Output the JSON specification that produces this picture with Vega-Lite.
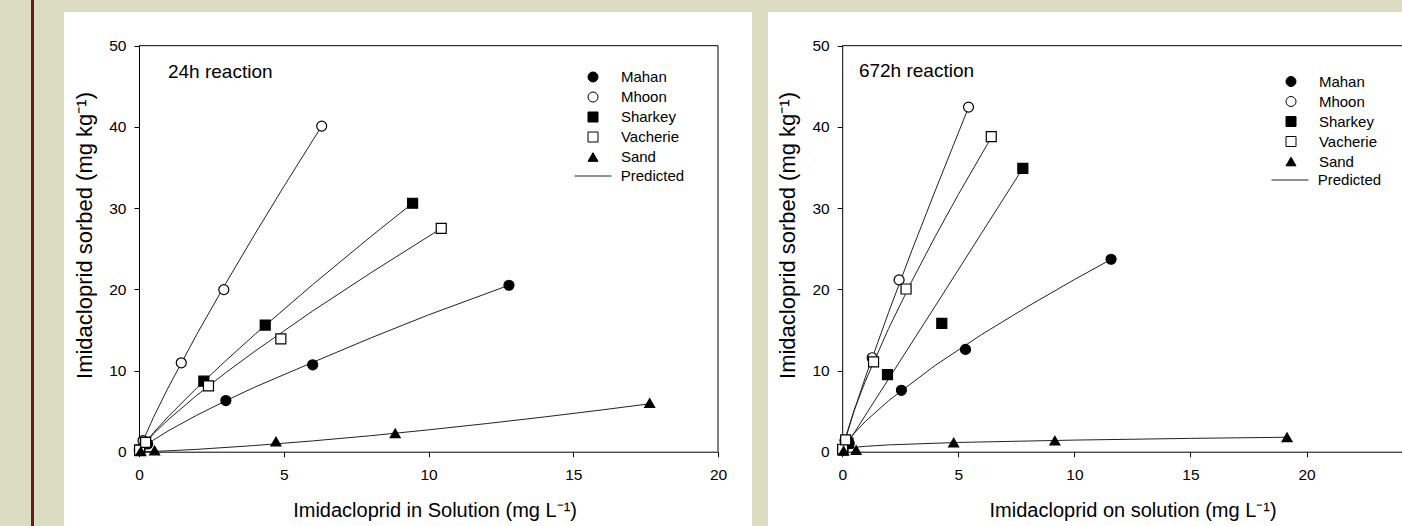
{
  "$schema": "https://vega.github.io/schema/vega-lite/v6.json",
  "background": "#DCDCC0",
  "padding": {"left": 31, "top": 0, "right": 0, "bottom": 0},
  "config": {
    "view": {"stroke": null},
    "font": "Liberation Sans",
    "axis": {"domainColor": "black", "tickColor": "black", "labelColor": "black", "titleColor": "black", "labelFont": "Liberation Sans", "titleFont": "Liberation Sans", "labelFontSize": 15.5, "titleFontSize": 20, "titleFontWeight": "normal", "tickSize": 5, "grid": false, "labelFlush": false, "labelOverlap": false, "domainWidth": 1, "tickWidth": 1},
    "axisX": {"labelPadding": 11},
    "axisY": {"labelPadding": 8, "titleFontSize": 22},
    "legend": {"labelFont": "Liberation Sans", "labelFontSize": 15, "labelColor": "black", "padding": 0, "rowPadding": 4, "symbolStrokeWidth": 1}
  },
  "datasets": {
    "obs": [
      {"p": "24h", "soil": "Mahan", "x": 0.03, "y": 0.15},
      {"p": "24h", "soil": "Mahan", "x": 0.3, "y": 0.95},
      {"p": "24h", "soil": "Mahan", "x": 3.0, "y": 6.3},
      {"p": "24h", "soil": "Mahan", "x": 6.0, "y": 10.7},
      {"p": "24h", "soil": "Mahan", "x": 12.78, "y": 20.5},
      {"p": "24h", "soil": "Mhoon", "x": 0.01, "y": 0.25},
      {"p": "24h", "soil": "Mhoon", "x": 0.14, "y": 1.37},
      {"p": "24h", "soil": "Mhoon", "x": 1.46, "y": 10.95},
      {"p": "24h", "soil": "Mhoon", "x": 2.93, "y": 19.96},
      {"p": "24h", "soil": "Mhoon", "x": 6.31, "y": 40.1},
      {"p": "24h", "soil": "Sharkey", "x": 0.02, "y": 0.2},
      {"p": "24h", "soil": "Sharkey", "x": 0.22, "y": 1.14},
      {"p": "24h", "soil": "Sharkey", "x": 2.24, "y": 8.68},
      {"p": "24h", "soil": "Sharkey", "x": 4.36, "y": 15.6},
      {"p": "24h", "soil": "Sharkey", "x": 9.45, "y": 30.6},
      {"p": "24h", "soil": "Vacherie", "x": 0.02, "y": 0.2},
      {"p": "24h", "soil": "Vacherie", "x": 0.23, "y": 1.15},
      {"p": "24h", "soil": "Vacherie", "x": 2.4, "y": 8.1},
      {"p": "24h", "soil": "Vacherie", "x": 4.9, "y": 13.9},
      {"p": "24h", "soil": "Vacherie", "x": 10.44, "y": 27.5},
      {"p": "24h", "soil": "Sand", "x": 0.06, "y": 0.05},
      {"p": "24h", "soil": "Sand", "x": 0.54, "y": 0.15},
      {"p": "24h", "soil": "Sand", "x": 4.73, "y": 1.24},
      {"p": "24h", "soil": "Sand", "x": 8.85, "y": 2.27},
      {"p": "24h", "soil": "Sand", "x": 17.64, "y": 6.0},
      {"p": "672h", "soil": "Mahan", "x": 0.03, "y": 0.2},
      {"p": "672h", "soil": "Mahan", "x": 0.3, "y": 1.0},
      {"p": "672h", "soil": "Mahan", "x": 2.55, "y": 7.56},
      {"p": "672h", "soil": "Mahan", "x": 5.31, "y": 12.6},
      {"p": "672h", "soil": "Mahan", "x": 11.58, "y": 23.7},
      {"p": "672h", "soil": "Mhoon", "x": 0.01, "y": 0.3},
      {"p": "672h", "soil": "Mhoon", "x": 0.12, "y": 1.35},
      {"p": "672h", "soil": "Mhoon", "x": 1.29, "y": 11.57},
      {"p": "672h", "soil": "Mhoon", "x": 2.45, "y": 21.16},
      {"p": "672h", "soil": "Mhoon", "x": 5.44, "y": 42.44},
      {"p": "672h", "soil": "Sharkey", "x": 0.02, "y": 0.25},
      {"p": "672h", "soil": "Sharkey", "x": 0.25, "y": 1.05},
      {"p": "672h", "soil": "Sharkey", "x": 1.95, "y": 9.5},
      {"p": "672h", "soil": "Sharkey", "x": 4.29, "y": 15.8},
      {"p": "672h", "soil": "Sharkey", "x": 7.78, "y": 34.9},
      {"p": "672h", "soil": "Vacherie", "x": 0.02, "y": 0.3},
      {"p": "672h", "soil": "Vacherie", "x": 0.15, "y": 1.45},
      {"p": "672h", "soil": "Vacherie", "x": 1.35, "y": 11.07},
      {"p": "672h", "soil": "Vacherie", "x": 2.75, "y": 20.04},
      {"p": "672h", "soil": "Vacherie", "x": 6.42, "y": 38.8},
      {"p": "672h", "soil": "Sand", "x": 0.06, "y": 0.1},
      {"p": "672h", "soil": "Sand", "x": 0.6, "y": 0.2},
      {"p": "672h", "soil": "Sand", "x": 4.8, "y": 1.12},
      {"p": "672h", "soil": "Sand", "x": 9.16, "y": 1.36},
      {"p": "672h", "soil": "Sand", "x": 19.16, "y": 1.78}
    ],
    "pred": [
      {"p": "24h", "model": "Predicted", "soil": "Mahan", "x": 0, "y": 0},
      {"p": "24h", "model": "Predicted", "soil": "Mahan", "x": 0.02, "y": 0.1},
      {"p": "24h", "model": "Predicted", "soil": "Mahan", "x": 0.1, "y": 0.39},
      {"p": "24h", "model": "Predicted", "soil": "Mahan", "x": 0.5, "y": 1.44},
      {"p": "24h", "model": "Predicted", "soil": "Mahan", "x": 1, "y": 2.55},
      {"p": "24h", "model": "Predicted", "soil": "Mahan", "x": 2, "y": 4.5},
      {"p": "24h", "model": "Predicted", "soil": "Mahan", "x": 3, "y": 6.28},
      {"p": "24h", "model": "Predicted", "soil": "Mahan", "x": 4, "y": 7.95},
      {"p": "24h", "model": "Predicted", "soil": "Mahan", "x": 6, "y": 11.0},
      {"p": "24h", "model": "Predicted", "soil": "Mahan", "x": 8, "y": 14.0},
      {"p": "24h", "model": "Predicted", "soil": "Mahan", "x": 10, "y": 16.85},
      {"p": "24h", "model": "Predicted", "soil": "Mahan", "x": 12.78, "y": 20.5},
      {"p": "24h", "model": "Predicted", "soil": "Mhoon", "x": 0, "y": 0},
      {"p": "24h", "model": "Predicted", "soil": "Mhoon", "x": 0.02, "y": 0.24},
      {"p": "24h", "model": "Predicted", "soil": "Mhoon", "x": 0.1, "y": 1.02},
      {"p": "24h", "model": "Predicted", "soil": "Mhoon", "x": 0.5, "y": 4.23},
      {"p": "24h", "model": "Predicted", "soil": "Mhoon", "x": 1, "y": 7.83},
      {"p": "24h", "model": "Predicted", "soil": "Mhoon", "x": 2, "y": 14.48},
      {"p": "24h", "model": "Predicted", "soil": "Mhoon", "x": 3, "y": 20.75},
      {"p": "24h", "model": "Predicted", "soil": "Mhoon", "x": 4, "y": 26.78},
      {"p": "24h", "model": "Predicted", "soil": "Mhoon", "x": 5, "y": 32.64},
      {"p": "24h", "model": "Predicted", "soil": "Mhoon", "x": 6.31, "y": 40.1},
      {"p": "24h", "model": "Predicted", "soil": "Sharkey", "x": 0, "y": 0},
      {"p": "24h", "model": "Predicted", "soil": "Sharkey", "x": 0.02, "y": 0.14},
      {"p": "24h", "model": "Predicted", "soil": "Sharkey", "x": 0.1, "y": 0.57},
      {"p": "24h", "model": "Predicted", "soil": "Sharkey", "x": 0.5, "y": 2.34},
      {"p": "24h", "model": "Predicted", "soil": "Sharkey", "x": 1, "y": 4.29},
      {"p": "24h", "model": "Predicted", "soil": "Sharkey", "x": 2, "y": 7.87},
      {"p": "24h", "model": "Predicted", "soil": "Sharkey", "x": 3, "y": 11.22},
      {"p": "24h", "model": "Predicted", "soil": "Sharkey", "x": 4, "y": 14.43},
      {"p": "24h", "model": "Predicted", "soil": "Sharkey", "x": 6, "y": 20.58},
      {"p": "24h", "model": "Predicted", "soil": "Sharkey", "x": 8, "y": 26.47},
      {"p": "24h", "model": "Predicted", "soil": "Sharkey", "x": 9.45, "y": 30.6},
      {"p": "24h", "model": "Predicted", "soil": "Vacherie", "x": 0, "y": 0},
      {"p": "24h", "model": "Predicted", "soil": "Vacherie", "x": 0.02, "y": 0.15},
      {"p": "24h", "model": "Predicted", "soil": "Vacherie", "x": 0.1, "y": 0.58},
      {"p": "24h", "model": "Predicted", "soil": "Vacherie", "x": 0.5, "y": 2.2},
      {"p": "24h", "model": "Predicted", "soil": "Vacherie", "x": 1, "y": 3.91},
      {"p": "24h", "model": "Predicted", "soil": "Vacherie", "x": 2, "y": 6.96},
      {"p": "24h", "model": "Predicted", "soil": "Vacherie", "x": 3, "y": 9.74},
      {"p": "24h", "model": "Predicted", "soil": "Vacherie", "x": 4, "y": 12.37},
      {"p": "24h", "model": "Predicted", "soil": "Vacherie", "x": 6, "y": 17.33},
      {"p": "24h", "model": "Predicted", "soil": "Vacherie", "x": 8, "y": 22.01},
      {"p": "24h", "model": "Predicted", "soil": "Vacherie", "x": 10.44, "y": 27.5},
      {"p": "24h", "model": "Predicted", "soil": "Sand", "x": 0, "y": 0},
      {"p": "24h", "model": "Predicted", "soil": "Sand", "x": 0.5, "y": 0.04},
      {"p": "24h", "model": "Predicted", "soil": "Sand", "x": 1, "y": 0.11},
      {"p": "24h", "model": "Predicted", "soil": "Sand", "x": 2, "y": 0.29},
      {"p": "24h", "model": "Predicted", "soil": "Sand", "x": 4, "y": 0.76},
      {"p": "24h", "model": "Predicted", "soil": "Sand", "x": 6, "y": 1.33},
      {"p": "24h", "model": "Predicted", "soil": "Sand", "x": 8, "y": 1.97},
      {"p": "24h", "model": "Predicted", "soil": "Sand", "x": 10, "y": 2.69},
      {"p": "24h", "model": "Predicted", "soil": "Sand", "x": 12, "y": 3.46},
      {"p": "24h", "model": "Predicted", "soil": "Sand", "x": 14, "y": 4.28},
      {"p": "24h", "model": "Predicted", "soil": "Sand", "x": 16, "y": 5.15},
      {"p": "24h", "model": "Predicted", "soil": "Sand", "x": 17.64, "y": 5.9},
      {"p": "672h", "model": "Predicted", "soil": "Mahan", "x": 0, "y": 0},
      {"p": "672h", "model": "Predicted", "soil": "Mahan", "x": 0.02, "y": 0.19},
      {"p": "672h", "model": "Predicted", "soil": "Mahan", "x": 0.1, "y": 0.66},
      {"p": "672h", "model": "Predicted", "soil": "Mahan", "x": 0.5, "y": 2.21},
      {"p": "672h", "model": "Predicted", "soil": "Mahan", "x": 1, "y": 3.73},
      {"p": "672h", "model": "Predicted", "soil": "Mahan", "x": 2, "y": 6.29},
      {"p": "672h", "model": "Predicted", "soil": "Mahan", "x": 4, "y": 10.62},
      {"p": "672h", "model": "Predicted", "soil": "Mahan", "x": 6, "y": 14.42},
      {"p": "672h", "model": "Predicted", "soil": "Mahan", "x": 8, "y": 17.9},
      {"p": "672h", "model": "Predicted", "soil": "Mahan", "x": 10, "y": 21.2},
      {"p": "672h", "model": "Predicted", "soil": "Mahan", "x": 11.58, "y": 23.68},
      {"p": "672h", "model": "Predicted", "soil": "Mhoon", "x": 0, "y": 0},
      {"p": "672h", "model": "Predicted", "soil": "Mhoon", "x": 0.02, "y": 0.27},
      {"p": "672h", "model": "Predicted", "soil": "Mhoon", "x": 0.1, "y": 1.15},
      {"p": "672h", "model": "Predicted", "soil": "Mhoon", "x": 0.5, "y": 4.91},
      {"p": "672h", "model": "Predicted", "soil": "Mhoon", "x": 1, "y": 9.19},
      {"p": "672h", "model": "Predicted", "soil": "Mhoon", "x": 2, "y": 17.18},
      {"p": "672h", "model": "Predicted", "soil": "Mhoon", "x": 3, "y": 24.78},
      {"p": "672h", "model": "Predicted", "soil": "Mhoon", "x": 4, "y": 32.1},
      {"p": "672h", "model": "Predicted", "soil": "Mhoon", "x": 5.44, "y": 42.4},
      {"p": "672h", "model": "Predicted", "soil": "Sharkey", "x": 0, "y": 0},
      {"p": "672h", "model": "Predicted", "soil": "Sharkey", "x": 0.1, "y": 0.45},
      {"p": "672h", "model": "Predicted", "soil": "Sharkey", "x": 1, "y": 4.49},
      {"p": "672h", "model": "Predicted", "soil": "Sharkey", "x": 2, "y": 8.97},
      {"p": "672h", "model": "Predicted", "soil": "Sharkey", "x": 4, "y": 17.9},
      {"p": "672h", "model": "Predicted", "soil": "Sharkey", "x": 6, "y": 26.9},
      {"p": "672h", "model": "Predicted", "soil": "Sharkey", "x": 7.78, "y": 34.9},
      {"p": "672h", "model": "Predicted", "soil": "Vacherie", "x": 0, "y": 0},
      {"p": "672h", "model": "Predicted", "soil": "Vacherie", "x": 0.02, "y": 0.38},
      {"p": "672h", "model": "Predicted", "soil": "Vacherie", "x": 0.1, "y": 1.37},
      {"p": "672h", "model": "Predicted", "soil": "Vacherie", "x": 0.5, "y": 4.99},
      {"p": "672h", "model": "Predicted", "soil": "Vacherie", "x": 1, "y": 8.7},
      {"p": "672h", "model": "Predicted", "soil": "Vacherie", "x": 2, "y": 15.18},
      {"p": "672h", "model": "Predicted", "soil": "Vacherie", "x": 3, "y": 21.01},
      {"p": "672h", "model": "Predicted", "soil": "Vacherie", "x": 4, "y": 26.47},
      {"p": "672h", "model": "Predicted", "soil": "Vacherie", "x": 5, "y": 31.66},
      {"p": "672h", "model": "Predicted", "soil": "Vacherie", "x": 6.42, "y": 38.7},
      {"p": "672h", "model": "Predicted", "soil": "Sand", "x": 0.02, "y": 0.18},
      {"p": "672h", "model": "Predicted", "soil": "Sand", "x": 0.1, "y": 0.31},
      {"p": "672h", "model": "Predicted", "soil": "Sand", "x": 0.6, "y": 0.56},
      {"p": "672h", "model": "Predicted", "soil": "Sand", "x": 1, "y": 0.66},
      {"p": "672h", "model": "Predicted", "soil": "Sand", "x": 2, "y": 0.84},
      {"p": "672h", "model": "Predicted", "soil": "Sand", "x": 5, "y": 1.14},
      {"p": "672h", "model": "Predicted", "soil": "Sand", "x": 10, "y": 1.43},
      {"p": "672h", "model": "Predicted", "soil": "Sand", "x": 15, "y": 1.64},
      {"p": "672h", "model": "Predicted", "soil": "Sand", "x": 19.16, "y": 1.78}
    ]
  },
  "bounds": "flush",
  "spacing": 0,
  "vconcat": [
    {
      "width": 3, "height": 12,
      "view": {"fill": "#6B1A1A", "stroke": null},
      "data": {"values": [{}]},
      "mark": {"type": "point", "size": 0, "opacity": 0, "strokeWidth": 0}
    },
    {
      "bounds": "flush",
      "spacing": 30,
      "hconcat": [
        {
          "width": 3, "height": 514,
          "view": {"fill": "#6B1A1A", "stroke": null},
          "data": {"values": [{}]},
          "mark": {"type": "point", "size": 0, "opacity": 0, "strokeWidth": 0}
        },
        {
          "bounds": "flush",
          "spacing": 16,
          "resolve": {"scale": {"shape": "independent", "fill": "independent", "stroke": "independent", "color": "independent", "x": "independent", "y": "independent"}},
          "hconcat": [
            {
              "width": 688, "height": 514,
              "view": {"fill": "white", "stroke": null},
              "layer": [
                {
                  "data": {"name": "pred"},
                  "transform": [{"filter": "datum.p === '24h'"}],
                  "mark": {"type": "line", "strokeWidth": 1},
                  "encoding": {
                    "x": {"field": "x", "type": "quantitative", "scale": {"domain": [0, 20], "range": [75, 654], "nice": false, "zero": false},
                      "axis": {"offset": -74.3, "values": [0, 5, 10, 15, 20], "title": "Imidacloprid in Solution (mg L⁻¹)", "titleX": 370.6, "titleY": 58.3, "titleBaseline": "middle"}},
                    "y": {"field": "y", "type": "quantitative", "scale": {"domain": [0, 50], "range": [439.7, 33.7], "nice": false, "zero": false},
                      "axis": {"offset": -75, "values": [0, 10, 20, 30, 40, 50], "title": "Imidacloprid sorbed (mg kg⁻¹)", "titleX": -55, "titleY": 223, "titleBaseline": "middle"}},
                    "detail": {"field": "soil", "type": "nominal"},
                    "color": {"field": "model", "type": "nominal", "scale": {"domain": ["Predicted"], "range": ["#222222"]},
                      "legend": {"title": null, "orient": "none", "legendX": 510, "legendY": 145, "symbolSize": 1369, "symbolStrokeWidth": 1, "labelOffset": 8.7}}
                  }
                },
                {
                  "data": {"values": [{}]},
                  "mark": {"type": "rule", "color": "black", "strokeWidth": 1},
                  "encoding": {"x": {"datum": 0, "type": "quantitative"}, "x2": {"datum": 20}, "y": {"datum": 50, "type": "quantitative"}}
                },
                {
                  "data": {"values": [{}]},
                  "mark": {"type": "rule", "color": "black", "strokeWidth": 1},
                  "encoding": {"x": {"datum": 20, "type": "quantitative"}, "y": {"datum": 0, "type": "quantitative"}, "y2": {"datum": 50}}
                },
                {
                  "data": {"name": "obs"},
                  "transform": [{"filter": "datum.p === '24h'"}],
                  "mark": {"type": "point", "strokeWidth": 1.2, "opacity": 1, "fillOpacity": 1, "size": 100},
                  "encoding": {
                    "x": {"field": "x", "type": "quantitative"},
                    "y": {"field": "y", "type": "quantitative"},
                    "shape": {"field": "soil", "type": "nominal", "scale": {"domain": ["Mahan", "Mhoon", "Sharkey", "Vacherie", "Sand"], "range": ["circle", "circle", "square", "square", "triangle-up"]},
                      "legend": {"title": null, "orient": "none", "legendX": 521.5, "legendY": 57.5, "labelOffset": 20.4}},
                    "fill": {"field": "soil", "type": "nominal", "scale": {"domain": ["Mahan", "Mhoon", "Sharkey", "Vacherie", "Sand"], "range": ["black", "white", "black", "white", "black"]},
                      "legend": {"title": null, "orient": "none", "legendX": 521.5, "legendY": 57.5, "labelOffset": 20.4}},
                    "stroke": {"field": "soil", "type": "nominal", "scale": {"domain": ["Mahan", "Mhoon", "Sharkey", "Vacherie", "Sand"], "range": ["black", "black", "black", "black", "black"]},
                      "legend": {"title": null, "orient": "none", "legendX": 521.5, "legendY": 57.5, "labelOffset": 20.4}}
                  }
                },
                {
                  "data": {"values": [{"label": "24h reaction"}]},
                  "mark": {"type": "text", "align": "left", "baseline": "middle", "fontSize": 19, "font": "Liberation Sans", "color": "black"},
                  "encoding": {"x": {"datum": 1.0, "type": "quantitative"}, "y": {"datum": 46.8, "type": "quantitative"}, "text": {"field": "label"}}
                }
              ]
            },
            {
              "width": 634, "height": 514,
              "view": {"fill": "white", "stroke": null},
              "layer": [
                {
                  "data": {"name": "pred"},
                  "transform": [{"filter": "datum.p === '672h'"}],
                  "mark": {"type": "line", "strokeWidth": 1},
                  "encoding": {
                    "x": {"field": "x", "type": "quantitative", "scale": {"domain": [0, 24.11], "range": [74.2, 634], "nice": false, "zero": false},
                      "axis": {"offset": -74.3, "values": [0, 5, 10, 15, 20], "title": "Imidacloprid on solution (mg L⁻¹)", "titleX": 364.6, "titleY": 58.3, "titleBaseline": "middle"}},
                    "y": {"field": "y", "type": "quantitative", "scale": {"domain": [0, 50], "range": [439.7, 33.7], "nice": false, "zero": false},
                      "axis": {"offset": -74.2, "values": [0, 10, 20, 30, 40, 50], "title": "Imidacloprid sorbed (mg kg⁻¹)", "titleX": -55, "titleY": 223, "titleBaseline": "middle"}},
                    "detail": {"field": "soil", "type": "nominal"},
                    "color": {"field": "model", "type": "nominal", "scale": {"domain": ["Predicted"], "range": ["#222222"]},
                      "legend": {"title": null, "orient": "none", "legendX": 503, "legendY": 149, "symbolSize": 1369, "symbolStrokeWidth": 1, "labelOffset": 8.7}}
                  }
                },
                {
                  "data": {"values": [{}]},
                  "mark": {"type": "rule", "color": "black", "strokeWidth": 1},
                  "encoding": {"x": {"datum": 0, "type": "quantitative"}, "x2": {"datum": 24.11}, "y": {"datum": 50, "type": "quantitative"}}
                },
                {
                  "data": {"name": "obs"},
                  "transform": [{"filter": "datum.p === '672h'"}],
                  "mark": {"type": "point", "strokeWidth": 1.2, "opacity": 1, "fillOpacity": 1, "size": 100},
                  "encoding": {
                    "x": {"field": "x", "type": "quantitative"},
                    "y": {"field": "y", "type": "quantitative"},
                    "shape": {"field": "soil", "type": "nominal", "scale": {"domain": ["Mahan", "Mhoon", "Sharkey", "Vacherie", "Sand"], "range": ["circle", "circle", "square", "square", "triangle-up"]},
                      "legend": {"title": null, "orient": "none", "legendX": 515.5, "legendY": 62, "labelOffset": 20.4}},
                    "fill": {"field": "soil", "type": "nominal", "scale": {"domain": ["Mahan", "Mhoon", "Sharkey", "Vacherie", "Sand"], "range": ["black", "white", "black", "white", "black"]},
                      "legend": {"title": null, "orient": "none", "legendX": 515.5, "legendY": 62, "labelOffset": 20.4}},
                    "stroke": {"field": "soil", "type": "nominal", "scale": {"domain": ["Mahan", "Mhoon", "Sharkey", "Vacherie", "Sand"], "range": ["black", "black", "black", "black", "black"]},
                      "legend": {"title": null, "orient": "none", "legendX": 515.5, "legendY": 62, "labelOffset": 20.4}}
                  }
                },
                {
                  "data": {"values": [{"label": "672h reaction"}]},
                  "mark": {"type": "text", "align": "left", "baseline": "middle", "fontSize": 19, "font": "Liberation Sans", "color": "black"},
                  "encoding": {"x": {"datum": 0.72, "type": "quantitative"}, "y": {"datum": 46.9, "type": "quantitative"}, "text": {"field": "label"}}
                }
              ]
            }
          ]
        }
      ]
    }
  ]
}
